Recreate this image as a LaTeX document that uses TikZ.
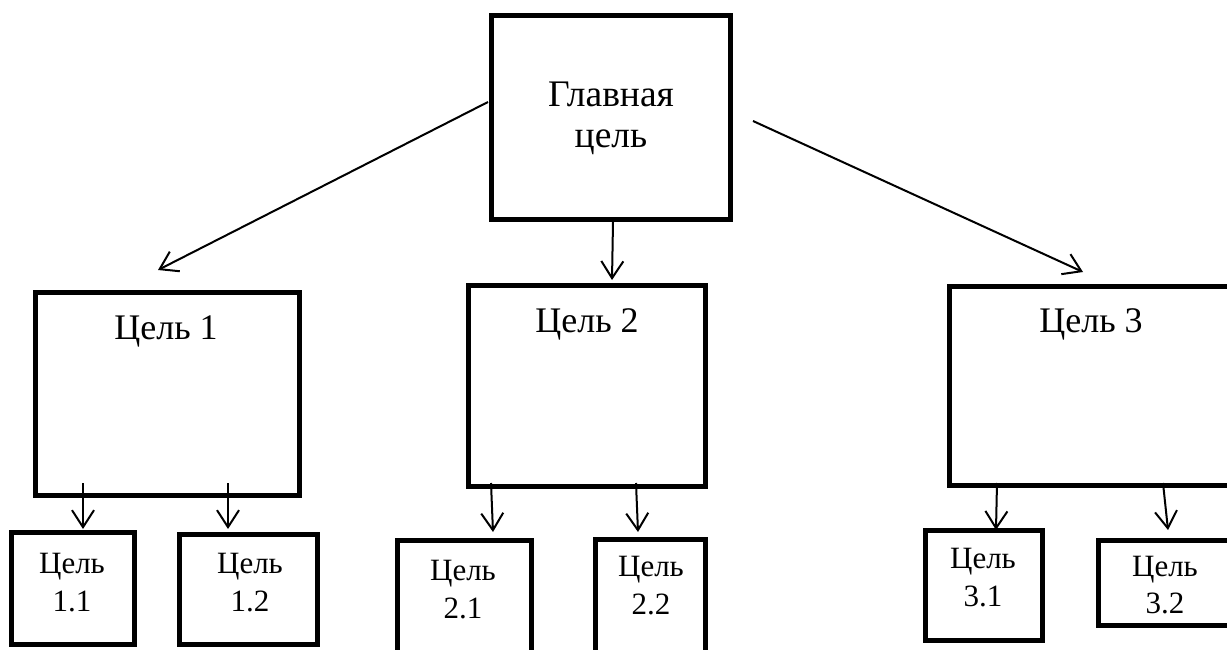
\documentclass[tikz,border=0pt]{standalone}
\usepackage{fontspec}
\setmainfont{Liberation Serif}
\usetikzlibrary{arrows.meta}
\begin{document}
\begin{tikzpicture}[x=1pt,y=-1pt,
  box/.style={draw=black,line width=5pt,fill=white,inner sep=0pt,outer sep=0pt},
  big/.style={font=\fontsize{36}{40}\selectfont,anchor=base,inner sep=0pt},
  mainfont/.style={font=\fontsize{37.5}{42}\selectfont,anchor=base,inner sep=0pt},
  small/.style={font=\fontsize{31}{36}\selectfont,anchor=base,inner sep=0pt},
  arr/.style={line width=2pt,-{Straight Barb[length=17pt,width=22pt,line width=2pt]}}]
\useasboundingbox (0,0) rectangle (1227,650);
% boxes (corners = centre of border line)
\draw[box] (491.5,15.5) rectangle (730.5,219.5) node[pos=0.5,inner sep=0pt] (main) {};
\draw[box] (35.5,292.5) rectangle (299.5,495.5) node[pos=0.5,inner sep=0pt] (c1) {};
\draw[box] (468.5,285.5) rectangle (705.5,486.5) node[pos=0.5,inner sep=0pt] (c2) {};
\draw[box] (949.5,286.5) rectangle (1236,485.5) node[pos=0.5,inner sep=0pt] (c3) {};
\draw[box] (11.5,532.5) rectangle (134.5,644.5) node[pos=0.5,inner sep=0pt] (c11) {};
\draw[box] (179.5,534.5) rectangle (317.5,644.5) node[pos=0.5,inner sep=0pt] (c12) {};
\draw[box] (397.5,540.5) rectangle (531.5,660) node[pos=0.5,inner sep=0pt] (c21) {};
\draw[box] (595.5,539.5) rectangle (705.5,660) node[pos=0.5,inner sep=0pt] (c22) {};
\draw[box] (925.5,530.5) rectangle (1042.5,640.5) node[pos=0.5,inner sep=0pt] (c31) {};
\draw[box] (1098.5,540.5) rectangle (1236,625.5) node[pos=0.5,inner sep=0pt] (c32) {};
% texts
\node[mainfont] (tm1) at (611,107) {Главная};
\node[mainfont] (tm2) at (611,148) {цель};
\node[big] (t1) at (166,339) {Цель 1};
\node[big] (t2) at (587,332) {Цель 2};
\node[big] (t3) at (1091,332) {Цель 3};
\node[small] (t11a) at (72,573) {Цель};
\node[small] (t11b) at (72,611) {1.1};
\node[small] (t12a) at (250,573) {Цель};
\node[small] (t12b) at (250,611) {1.2};
\node[small] (t21a) at (463,580) {Цель};
\node[small] (t21b) at (463,618) {2.1};
\node[small] (t22a) at (651,576) {Цель};
\node[small] (t22b) at (651,614) {2.2};
\node[small] (t31a) at (983,568) {Цель};
\node[small] (t31b) at (983,606) {3.1};
\node[small] (t32a) at (1165,576) {Цель};
\node[small] (t32b) at (1165,613) {3.2};
% connector end points
\coordinate (s1) at (488,102);  \coordinate (e1) at (158,270);
\coordinate (s0) at (613,222);  \coordinate (e0) at (612,280);
\coordinate (s2) at (753,121);  \coordinate (e2) at (1083,272);
\coordinate (s11) at (83,483);  \coordinate (e11) at (83,529);
\coordinate (s12) at (228,483); \coordinate (e12) at (228,529);
\coordinate (s21) at (491,483); \coordinate (e21) at (493,532);
\coordinate (s22) at (636,483); \coordinate (e22) at (638,532);
\coordinate (s31) at (997,483); \coordinate (e31) at (996,530);
\coordinate (s32) at (1163,483);\coordinate (e32) at (1168,530);
\draw[arr] (s1) -- (e1);
\draw[arr] (s0) -- (e0);
\draw[arr] (s2) -- (e2);
\draw[arr] (s11) -- (e11);
\draw[arr] (s12) -- (e12);
\draw[arr] (s21) -- (e21);
\draw[arr] (s22) -- (e22);
\draw[arr] (s31) -- (e31);
\draw[arr] (s32) -- (e32);
\end{tikzpicture}
\end{document}
